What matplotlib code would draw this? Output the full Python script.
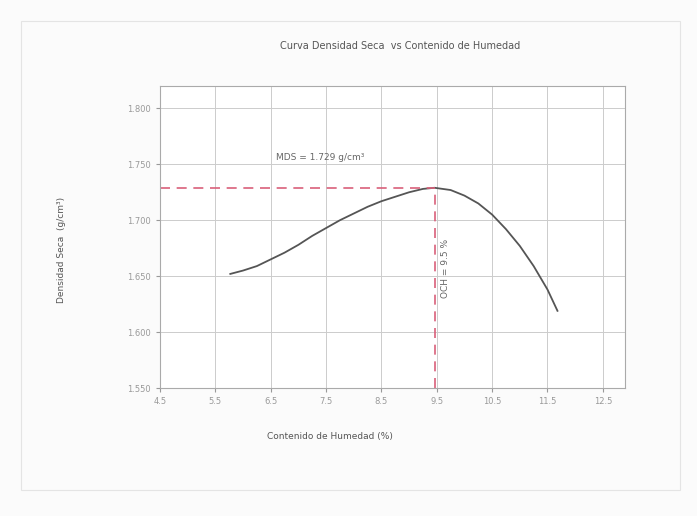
import numpy as np
import matplotlib.pyplot as plt
from matplotlib.patches import Rectangle

# values
humedad = [5.77, 6.0, 6.25, 6.5, 6.75, 7.0, 7.25, 7.5, 7.75, 8.0, 8.25, 8.5, 8.75,
           9.0, 9.25, 9.46, 9.75, 10.0, 10.25, 10.5, 10.75, 11.0, 11.25, 11.5, 11.68]
densidad = [1.652, 1.655, 1.659, 1.665, 1.671, 1.678, 1.686, 1.693, 1.700, 1.706, 1.712,
            1.717, 1.721, 1.725, 1.728, 1.729, 1.727, 1.722, 1.715, 1.705, 1.692, 1.677,
            1.659, 1.638, 1.619]
mds = 1.729
och = 9.46

xticks = [4.5, 5.5, 6.5, 7.5, 8.5, 9.5, 10.5, 11.5, 12.5]
yticks = [1.550, 1.600, 1.650, 1.700, 1.750, 1.800]

fig = plt.figure(figsize=(6.97, 5.16), dpi=100)
fig.patch.set_facecolor('#fbfbfb')
fig.patches.append(Rectangle((0.03, 0.05), 0.945, 0.91, transform=fig.transFigure,
                             fill=False, ec='#e4e4e4', lw=0.8))

ax = fig.add_axes([160 / 697, 1 - 388 / 516, 465 / 697, 302 / 516])
ax.set_facecolor('white')

ax.plot(humedad, densidad, color='#555555', lw=1.3)
ax.plot([4.5, och], [mds, mds], color='#d9607a', lw=1.2, ls=(0, (6, 4)))
ax.plot([och, och], [1.55, mds], color='#d9607a', lw=1.2, ls=(0, (6, 4)))

ax.set_xlim(4.5, 12.9)
ax.set_ylim(1.55, 1.82)
ax.set_xticks(xticks)
ax.set_yticks(yticks)
ax.set_xticklabels(['%.1f' % v for v in xticks], fontsize=6, color='#666666')
ax.set_yticklabels(['%.3f' % v for v in yticks], fontsize=6, color='#666666')
ax.grid(True, color='#cccccc', lw=0.7)
for s in ax.spines.values():
    s.set_color('#aaaaaa')
ax.tick_params(colors='#999999', length=3)

ax.text(6.6, 1.754, 'MDS = %.3f g/cm³' % mds, fontsize=6.5, color='#666666')
ax.text(9.66, 1.657, 'OCH = %.1f %%' % och, fontsize=6.5, color='#666666',
        rotation=90, ha='center', va='center')

fig.text(400 / 697, 1 - 46 / 516, 'Curva Densidad Seca  vs Contenido de Humedad',
         fontsize=7, color='#555555', ha='center', va='center')
fig.text(62 / 697, 1 - 250 / 516, 'Densidad Seca  (g/cm³)', fontsize=6.5, color='#555555',
         rotation=90, ha='center', va='center')
fig.text(330 / 697, 1 - 437 / 516, 'Contenido de Humedad (%)', fontsize=6.5,
         color='#555555', ha='center', va='center')

fig.savefig('out.png', dpi=100, facecolor=fig.get_facecolor())
